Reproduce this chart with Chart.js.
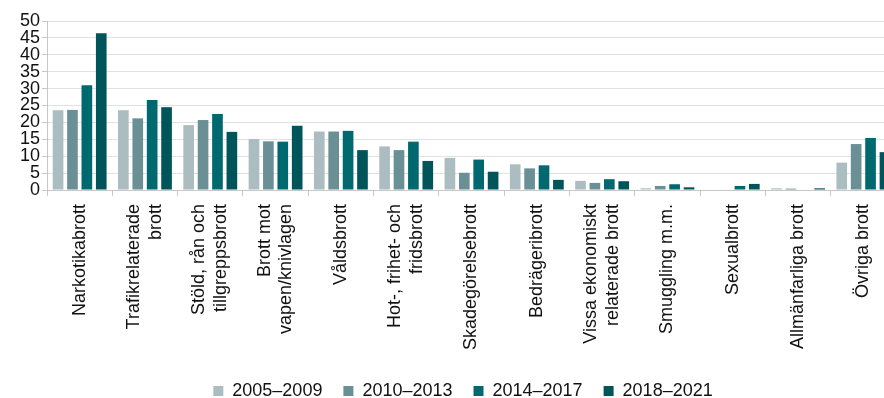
<!DOCTYPE html>
<html>
<head>
<meta charset="utf-8">
<script src="https://cdn.jsdelivr.net/npm/chart.js@4/dist/chart.umd.min.js"></script>
<style>
  html, body { margin: 0; padding: 0; overflow: hidden; background: #fff; }
</style>
</head>
<body>
<canvas id="brottChart" width="920" height="398"></canvas>
<script>
const categories = [
  "Narkotikabrott",
  ["Trafikrelaterade", "brott"],
  ["Stöld, rån och", "tillgreppsbrott"],
  ["Brott mot", "vapen/knivlagen"],
  "Våldsbrott",
  ["Hot-, frihet- och", "fridsbrott"],
  "Skadegörelsebrott",
  "Bedrägeribrott",
  ["Vissa ekonomiskt", "relaterade brott"],
  "Smuggling m.m.",
  "Sexualbrott",
  "Allmänfarliga brott",
  "Övriga brott"
];

const periods = ["2005–2009", "2010–2013", "2014–2017", "2018–2021"];

const values2005_2009 = [23.6, 23.6, 19.2, 15.1, 17.3, 12.9, 9.5, 7.6, 2.7, 0.5, 0, 0.5, 8.1];
const values2010_2013 = [23.7, 21.2, 20.7, 14.4, 17.3, 11.8, 5.1, 6.4, 2.1, 1.2, 0, 0.4, 13.6];
const values2014_2017 = [31.0, 26.6, 22.5, 14.3, 17.5, 14.3, 9.0, 7.3, 3.2, 1.7, 1.2, 0, 15.4];
const values2018_2021 = [46.4, 24.5, 17.2, 19.0, 11.8, 8.6, 5.4, 3.0, 2.6, 0.8, 1.8, 0.5, 11.2];

const yTicks = [0, 5, 10, 15, 20, 25, 30, 35, 40, 45, 50];

const colors = ["#abbdc0", "#6a9096", "#00686f", "#00555a"];

Chart.defaults.font.family = "'Liberation Sans', Arial, sans-serif";
Chart.defaults.color = "#111";

const series = [values2005_2009, values2010_2013, values2014_2017, values2018_2021];

// two-line category labels: centre the pair of lines on the tick
// instead of starting the first line there
const centreMultiline = {
  id: "centreMultiline",
  beforeDraw(chart) {
    const x = chart.scales.x;
    x.getLabelItems().forEach((item) => {
      if (Array.isArray(item.label) && item.label.length > 1) {
        item.options.translation[0] -= (item.font.lineHeight * (item.label.length - 1)) / 2;
      }
    });
  },
};

// legend sits a bit right of the canvas middle
const legendShift = {
  id: "legendShift",
  afterLayout(chart) {
    chart.legend.left += 15;
    chart.legend.right += 15;
  },
};

new Chart(document.getElementById("brottChart"), {
  type: "bar",
  data: {
    labels: categories,
    datasets: series.map((vals, i) => ({
      label: periods[i],
      data: vals,
      backgroundColor: colors[i],
      borderWidth: 0,
      categoryPercentage: 0.882,
      barPercentage: 0.74,
    })),
  },
  plugins: [centreMultiline, legendShift],
  options: {
    responsive: false,
    animation: false,
    layout: {
      padding: { left: 0, right: 24, top: 21, bottom: -12 },
    },
    scales: {
      x: {
        grid: {
          offset: true,
          drawOnChartArea: false,
          tickLength: 6,
          color: "#c8c8c8",
        },
        border: { color: "#c8c8c8" },
        ticks: {
          autoSkip: false,
          maxRotation: 90,
          minRotation: 90,
          padding: 8,
          font: { size: 18 },
          color: "#111",
        },
        afterFit(scale) {
          scale.height = 171;
        },
      },
      y: {
        min: 0,
        max: 50,
        afterBuildTicks(scale) {
          scale.ticks = yTicks.map((v) => ({ value: v }));
        },
        grid: {
          color: "#e2e2e2",
          tickLength: 5,
          tickColor: "#c8c8c8",
        },
        border: { color: "#c8c8c8" },
        ticks: {
          autoSkip: false,
          padding: 2,
          font: { size: 18 },
          color: "#111",
        },
        afterFit(scale) {
          scale.width = 47;
        },
      },
    },
    plugins: {
      legend: {
        position: "bottom",
        labels: {
          boxWidth: 10,
          boxHeight: 10,
          padding: 21,
          font: { size: 18 },
          color: "#111",
        },
      },
      tooltip: { enabled: false },
    },
  },
});
</script>
</body>
</html>
